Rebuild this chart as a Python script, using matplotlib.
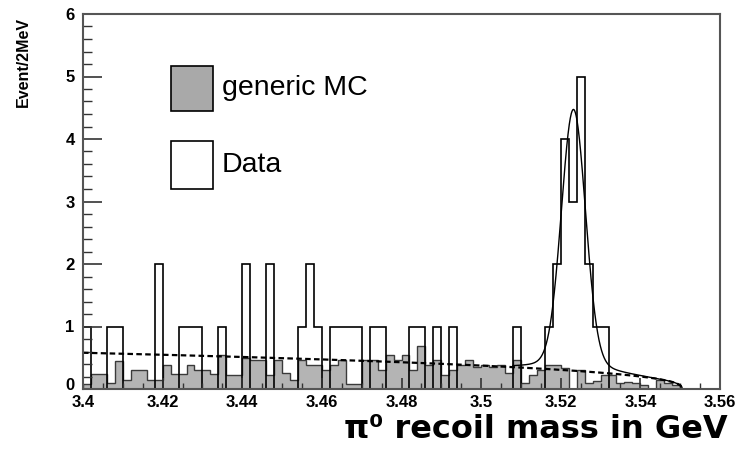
import numpy as np
import matplotlib
matplotlib.use("Agg")
import matplotlib.pyplot as plt
import matplotlib.transforms as mtransforms
from matplotlib.patches import Rectangle

# binning: 2 MeV bins from 3.40 to 3.56 GeV
x_lo = 3.40
x_hi = 3.56
n_bins = 80

# data counts per bin
data_counts = [
    1, 0, 0, 1, 1, 0, 0, 0, 0, 2,
    0, 0, 1, 1, 1, 0, 0, 1, 0, 0,
    2, 0, 0, 2, 0, 0, 0, 1, 2, 1,
    0, 1, 1, 1, 1, 0, 1, 1, 0, 0,
    0, 1, 1, 0, 1, 0, 1, 0, 0, 0,
    0, 0, 0, 0, 1, 0, 0, 0, 1, 2,
    4, 3, 5, 2, 1, 1, 0, 0, 0, 0,
    0, 0, 0, 0, 0, 0, 0, 0, 0, 0,
]

# generic MC (scaled) per bin
mc_counts = [
    0.08, 0.24, 0.24, 0.09, 0.45, 0.14, 0.31, 0.31, 0.14, 0.14,
    0.38, 0.24, 0.24, 0.38, 0.31, 0.31, 0.24, 0.54, 0.22, 0.22,
    0.49, 0.46, 0.46, 0.22, 0.46, 0.25, 0.14, 0.46, 0.38, 0.38,
    0.31, 0.38, 0.46, 0.08, 0.08, 0.46, 0.46, 0.31, 0.54, 0.46,
    0.54, 0.31, 0.69, 0.38, 0.46, 0.22, 0.31, 0.38, 0.46, 0.35,
    0.38, 0.35, 0.38, 0.25, 0.46, 0.09, 0.22, 0.31, 0.38, 0.38,
    0.33, 0.00, 0.31, 0.09, 0.13, 0.22, 0.22, 0.09, 0.12, 0.09,
    0.06, 0.00, 0.14, 0.09, 0.07, 0.00, 0.00, 0.00, 0.00, 0.00,
]

# fit result: gaussian peak + small wide tail + threshold background
peak_mean = 3.5232
peak_sigma = 0.0030
peak_amp = 4.03
tail_sigma = 0.008
tail_amp = 0.15
bkg_at_lo = 0.58
bkg_end = 3.5505
bkg_power = 0.4
fit_lo = 3.508
fit_hi = 3.557

edges = np.linspace(x_lo, x_hi, n_bins + 1)


def background(x):
    d = np.clip(bkg_end - x, 0, None)
    return bkg_at_lo * (d / (bkg_end - x_lo)) ** bkg_power


def total_fit(x):
    g = peak_amp * np.exp(-0.5 * ((x - peak_mean) / peak_sigma) ** 2)
    t = tail_amp * np.exp(-0.5 * ((x - peak_mean) / tail_sigma) ** 2)
    return g + t + background(x)


fig = plt.figure(figsize=(7.46, 4.57), dpi=100)
ax = fig.add_axes([83 / 746, 1 - 389 / 457, 637 / 746, 375 / 457])

# MC filled, data outline on top
ax.stairs(mc_counts, edges, fill=True, facecolor="#b4b4b4", edgecolor="none")
ax.stairs(mc_counts, edges, color="#3a3a3a", lw=1.0)
ax.stairs(data_counts, edges, color="black", lw=1.2, baseline=0)

# background (dashed) and full fit (solid)
xb = np.linspace(x_lo, bkg_end, 400)
ax.plot(xb, background(xb), color="black", lw=1.6, ls=(0, (2.5, 1.5)))
xf = np.linspace(fit_lo, fit_hi, 600)
ax.plot(xf, total_fit(xf), color="black", lw=1.0)

ax.set_xlim(x_lo, x_hi)
ax.set_ylim(0, 6)

# axes look
for s in ax.spines.values():
    s.set_color("#555555")
    s.set_linewidth(1.5)

ax.set_xticks([3.40, 3.42, 3.44, 3.46, 3.48, 3.50, 3.52, 3.54, 3.56])
ax.set_xticklabels(["3.4", "3.42", "3.44", "3.46", "3.48", "3.5", "3.52", "3.54", "3.56"])
ax.set_xticks(np.arange(x_lo, x_hi + 1e-9, 0.005), minor=True)
ax.set_yticks([0, 1, 2, 3, 4, 5, 6])
ax.set_yticks(np.arange(0, 6.01, 0.2), minor=True)

ax.tick_params(axis="y", which="major", direction="in", length=14, width=1.2,
               color="#333333", pad=6)
ax.tick_params(axis="y", which="minor", direction="in", length=6.5, width=1.0,
               color="#333333")
ax.tick_params(axis="x", which="major", direction="in", length=8, width=1.2,
               color="#333333", pad=4)
ax.tick_params(axis="x", which="minor", direction="in", length=4, width=1.0,
               color="#333333")

for lab in ax.get_xticklabels() + ax.get_yticklabels():
    lab.set_fontfamily("Liberation Sans")
    lab.set_fontweight("bold")
    lab.set_fontsize(12)

# lift the "0" a bit so it sits just above "3.4"
zero_lab = ax.get_yticklabels()[0]
zero_lab.set_transform(zero_lab.get_transform() +
                       mtransforms.ScaledTranslation(0, 5 / 100, fig.dpi_scale_trans))

# y label
fig.text(23 / 746, 1 - 62 / 457, "Event/2MeV", rotation=90, ha="center", va="center",
         fontsize=11.5, fontweight="bold", family="Liberation Sans")

# x title
fig.text(536 / 746, 1 - 430 / 457, "\u03c0\u2070 recoil mass in GeV", ha="center", va="center",
         fontsize=23, fontweight="bold", family=["DejaVu Sans"])

# legend boxes
tf = fig.transFigure
fig.patches.append(Rectangle((171 / 746, 1 - 111 / 457), 42 / 746, 45 / 457, transform=tf,
                             facecolor="#a9a9a9", edgecolor="black", lw=1.2))
fig.patches.append(Rectangle((171 / 746, 1 - 189 / 457), 42 / 746, 48 / 457, transform=tf,
                             facecolor="white", edgecolor="black", lw=1.2))
fig.text(222 / 746, 1 - 88 / 457, "generic MC", ha="left", va="center",
         fontsize=20.5, family="Liberation Sans")
fig.text(222 / 746, 1 - 165 / 457, "Data", ha="left", va="center",
         fontsize=20.5, family="Liberation Sans")

fig.savefig("out.png", dpi=100)
